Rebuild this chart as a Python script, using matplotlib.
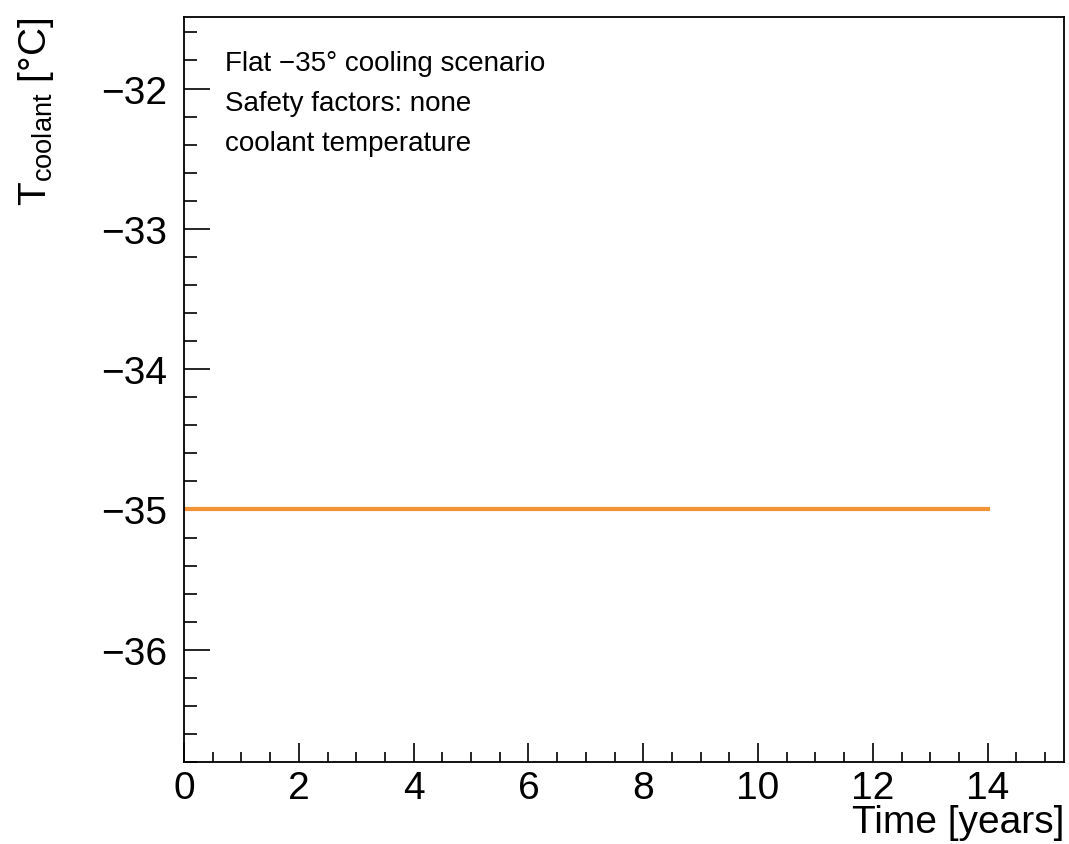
import matplotlib.pyplot as plt
from matplotlib.ticker import MultipleLocator

plt.rcParams['font.family'] = ['Liberation Sans', 'DejaVu Sans']
plt.rcParams['mathtext.fontset'] = 'custom'
plt.rcParams['mathtext.rm'] = 'Liberation Sans'
plt.rcParams['mathtext.it'] = 'Liberation Sans:italic'

# coolant temperature vs time
years = [0, 1, 2, 3, 4, 5, 6, 7, 8, 9, 10, 11, 12, 13, 14]
t_coolant = [-35.0, -35.0, -35.0, -35.0, -35.0, -35.0, -35.0, -35.0,
             -35.0, -35.0, -35.0, -35.0, -35.0, -35.0, -35.0]

notes = ["Flat \u221235\u00b0 cooling scenario",
         "Safety factors: none",
         "coolant temperature"]

fig = plt.figure(figsize=(10.69, 8.45), dpi=100)
ax = fig.add_axes([184 / 1069, 82 / 845, 880 / 1069, 745 / 845])

ax.plot(years, t_coolant, color='#f39237', lw=3)

ax.set_xlim(0, 15.33)
ax.set_ylim(-36.8, -31.49)

ax.xaxis.set_major_locator(MultipleLocator(2))
ax.xaxis.set_minor_locator(MultipleLocator(0.5))
ax.yaxis.set_major_locator(MultipleLocator(1))
ax.yaxis.set_minor_locator(MultipleLocator(0.2))

ax.tick_params(axis='both', which='both', direction='in', top=False, right=False,
               width=1.2, labelsize=28)
ax.tick_params(axis='x', which='major', length=14, pad=6)
ax.tick_params(axis='x', which='minor', length=7)
ax.tick_params(axis='y', which='major', length=19, pad=12)
ax.tick_params(axis='y', which='minor', length=9)
for s in ax.spines.values():
    s.set_linewidth(1.3)

ax.set_xlabel("Time [years]", fontsize=28, loc='right')
ax.xaxis.set_label_coords(1.0, -0.056)
ax.set_ylabel("T$_{\\rm coolant}$ [\u00b0C]", fontsize=28, loc='top')
ax.yaxis.set_label_coords(-0.145, 1.0)

for i, txt in enumerate(notes):
    ax.text(0.047, 0.938 - i * 0.0537, txt, transform=ax.transAxes,
            fontsize=20, va='center', ha='left')

fig.savefig('out.png', dpi=100)
